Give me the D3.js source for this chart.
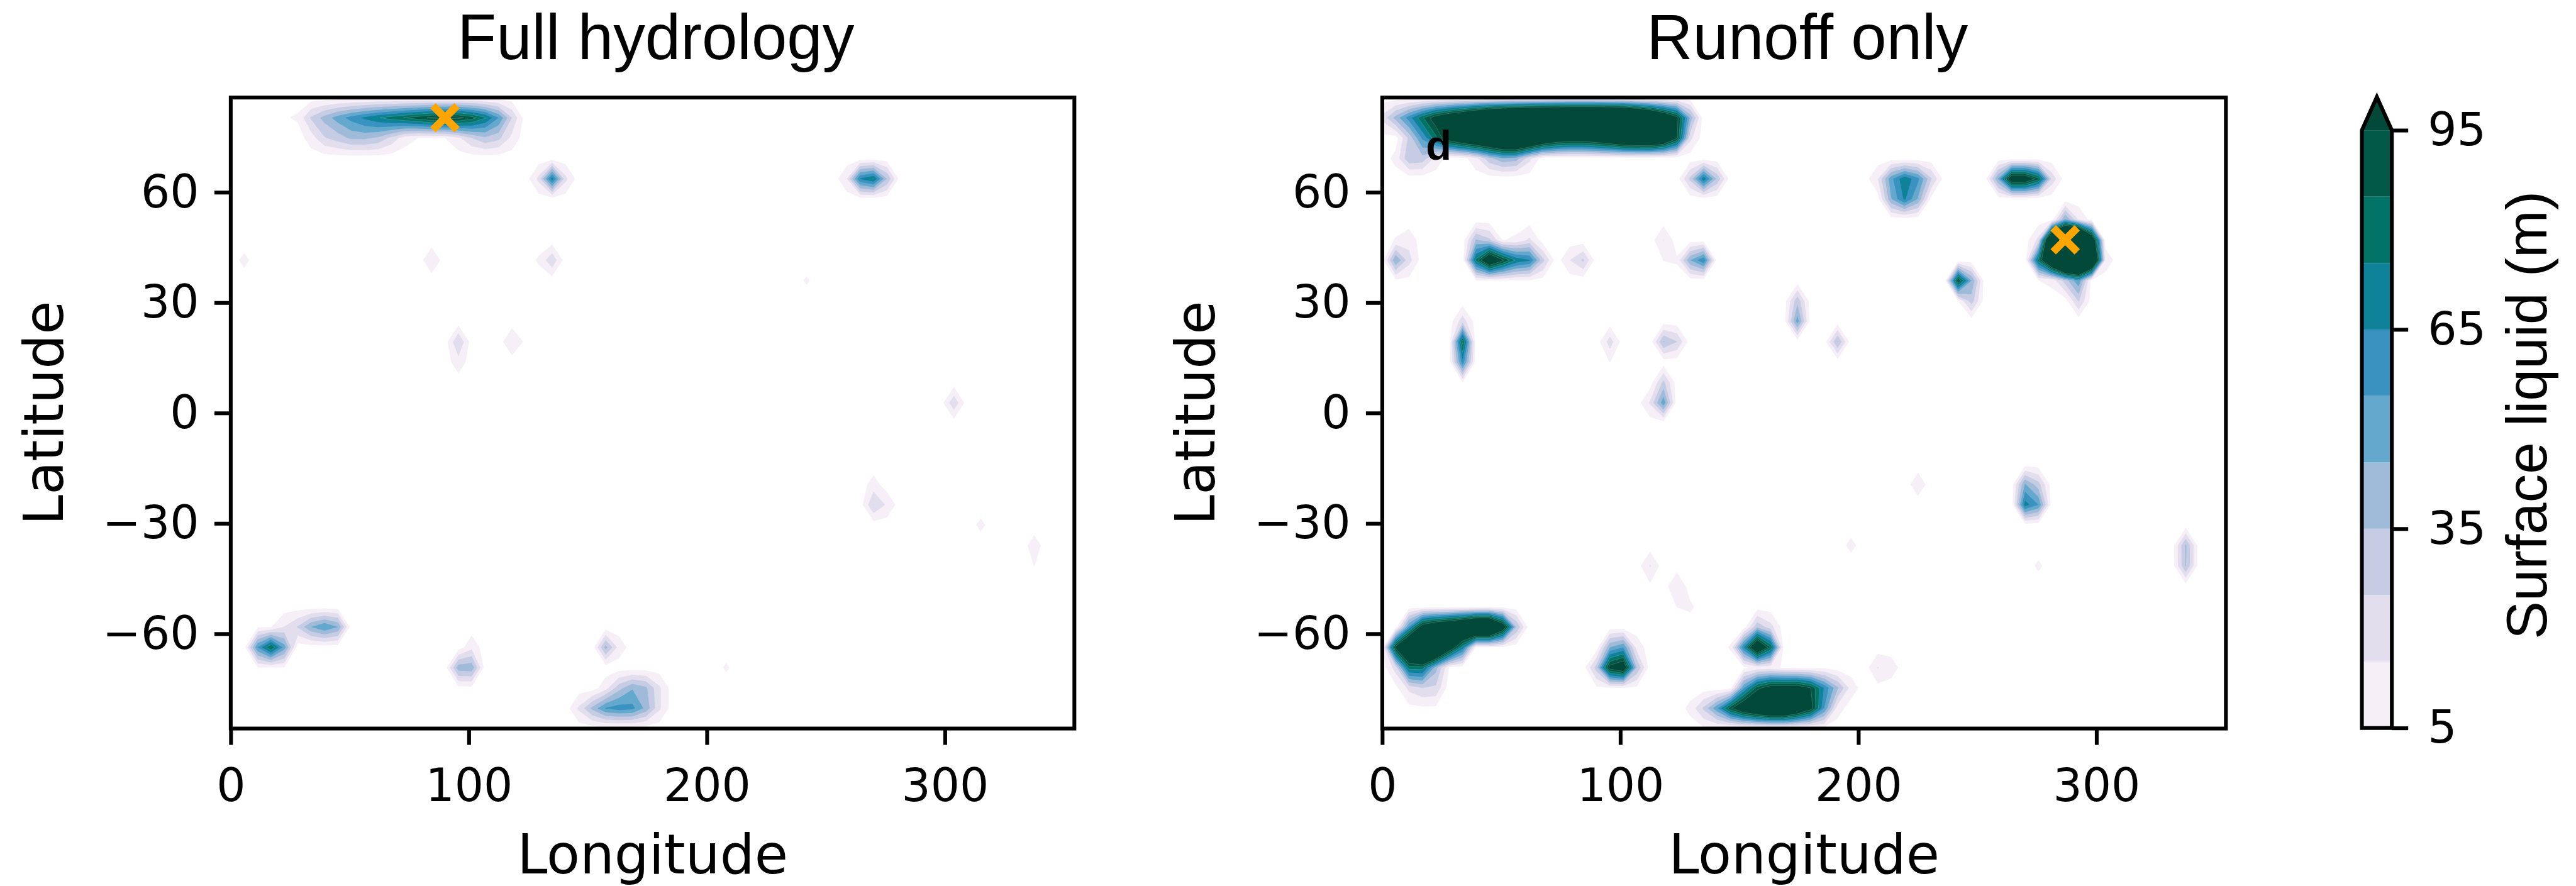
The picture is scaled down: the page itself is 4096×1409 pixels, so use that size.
<!DOCTYPE html>
<html>
<head>
<meta charset="utf-8">
<script src="https://cdn.jsdelivr.net/npm/d3@7"></script>
<style>
  html, body { margin: 0; padding: 0; background: #fff; }
  svg { display: block; }
</style>
</head>
<body>
<div id="chart"></div>
<script>
// T21 grid: 64 longitudes, 32 gaussian latitudes (row 0 is the north edge)
const lons = d3.range(64).map(i => i * 5.625);
const northLats = [85.76, 80.27, 74.74, 69.21, 63.68, 58.14, 52.61, 47.07, 41.53, 36.0, 30.46, 24.92, 19.38, 13.84, 8.31, 2.77];
const lats = northLats.concat(northLats.map(d => -d).reverse());

const levels = [5, 15, 25, 35, 45, 55, 65, 75, 85, 95];
const levelColors = ["#f7eff7", "#e3deed", "#c5cce3", "#9fbbd9", "#65a8ce", "#3a92c0", "#0e8298", "#027367", "#025847", "#03493a"];
const xTicks = [0, 100, 200, 300];
const yTicks = [-60, -30, 0, 30, 60];
const barTicks = [5, 35, 65, 95];

// [row, first column, values...] everything not listed is dry
const fullHydrologyCells = [
  [1, 4, [4, 6.5, 26.5, 39, 50, 59, 67, 74, 80, 85.5, 91, 97, 100, 98, 90, 76, 55, 25]],
  [2, 6, [10, 24, 30, 37, 37, 33, 22, 9, 5, 5, 5, 13, 25, 33, 28, 12]],
  [4, 23, [18, 70, 18]],
  [4, 46, [14, 66, 75.5, 35]],
  [8, 1, [8]],
  [8, 15, [14]],
  [8, 23, [6.5, 23]],
  [9, 43, [6.4]],
  [12, 17, [25.5]],
  [13, 17, [11]],
  [12, 21, [15, 3]],
  [15, 54, [23]],
  [19, 48, [9.2]],
  [20, 48, [25.5, 13.5]],
  [21, 56, [7.5]],
  [22, 60, [10]],
  [23, 60, [5.2]],
  [26, 2, [3.5, 4.5, 15.5, 26, 45, 55.5, 45]],
  [27, 2, [55, 85.5, 50]],
  [28, 2, [4.5, 4.5, 4.5]],
  [27, 18, [12]],
  [28, 17, [41, 42]],
  [29, 17, [2, 2]],
  [27, 28, [39, 11]],
  [28, 37, [6.5]],
  [29, 28, [11, 31, 44, 37, 17]],
  [30, 26, [17, 38, 56, 60, 58, 42, 17]]
];

const runoffOnlyCells = [
  [1, 0, [18, 39, 60, 83, 105, 121, 136, 152, 169, 180, 190, 195, 200, 204, 208, 208, 208, 203, 197, 177, 156, 128, 100, 42]],
  [2, 0, [2, 0.5, 28, 57, 82, 110, 128, 139, 148, 164, 169, 155, 136, 120, 114, 114, 121, 131, 146, 150, 152, 136, 97, 18]],
  [3, 1, [8.5, 33, 31, 11.6, 0.5, 1, 12, 32, 43, 40, 18]],
  [4, 23, [28, 72, 33]],
  [4, 37, [14.5, 52, 73, 58, 26]],
  [5, 37, [1, 44, 67, 44, 2]],
  [4, 46, [46, 115, 115, 88, 22]],
  [6, 51, [46, 14, 1]],
  [7, 1, [5.8, 11]],
  [8, 1, [45, 19]],
  [9, 1, [3, 2]],
  [7, 7, [36, 27, 4.5, 6.9, 17]],
  [8, 7, [78, 125, 97, 73, 66, 28]],
  [9, 7, [4.8, 4.8, 4.5, 4.5, 4.5, 1.4]],
  [8, 14, [15, 27]],
  [7, 21, [15.5]],
  [8, 21, [5.2, 6.3, 45, 64]],
  [7, 49, [18, 161, 215, 230, 123]],
  [8, 49, [80, 144, 215, 210, 165, 12]],
  [9, 49, [4.8, 8, 30, 53]],
  [10, 52, [26]],
  [9, 43, [96, 45]],
  [10, 43, [4.8, 30]],
  [11, 6, [21]],
  [12, 6, [88]],
  [13, 6, [62]],
  [14, 6, [4.9]],
  [12, 17, [20]],
  [13, 17, [5.2]],
  [12, 21, [36, 25.5]],
  [10, 31, [32]],
  [11, 31, [50]],
  [12, 34, [36]],
  [14, 21, [28]],
  [15, 20, [16.5, 52]],
  [19, 48, [46, 29]],
  [20, 48, [70, 55]],
  [19, 40, [11.7]],
  [22, 35, [8]],
  [23, 20, [16]],
  [24, 20, [3]],
  [24, 22, [15]],
  [25, 22, [5.2, 7]],
  [23, 49, [7]],
  [22, 60, [37]],
  [23, 60, [36]],
  [26, 2, [56, 108, 125, 135, 150, 170, 170, 115, 35]],
  [27, 1, [100, 150, 190, 170, 115, 70, 4.5, 4.5, 4]],
  [28, 1, [20, 80, 80, 39, 4.5]],
  [29, 1, [2, 18, 25, 23]],
  [30, 2, [2, 3, 3]],
  [27, 17, [45, 55, 11]],
  [28, 16, [30, 102, 115, 35]],
  [29, 16, [3, 4, 4, 3]],
  [26, 28, [33, 19]],
  [27, 26, [6, 65, 130, 85]],
  [28, 27, [3, 8, 8, 4]],
  [28, 31, [3, 3, 3]],
  [28, 37, [15.5, 10.5]],
  [29, 37, [2]],
  [29, 26, [2, 54, 90, 106, 107, 108, 95, 64, 37, 11]],
  [30, 23, [8, 27, 53, 92, 120, 138, 154, 154, 130, 102, 55, 10]],
  [31, 24, [4, 3]],
  [31, 33, [3]]
];

const fullHydrologyMarker = [90, 80.27];
const runoffOnlyMarker = [286.875, 47.07];

// drawn in the reference's own pixels, the viewBox scales it to the window
const fullW = 4726, fullH = 1626;
const panelW = 1548, panelH = 1158, panelTop = 179;
const spine = 7;
const numberFont = "'DejaVu Sans', sans-serif";
const textFont = "'DejaVu Sans', sans-serif";

const svg = d3.select("#chart")
  .append("svg")
  .attr("width", 4096)
  .attr("height", 1409)
  .attr("viewBox", `0 0 ${fullW} ${fullH}`);

const x = d3.scaleLinear().domain([0, d3.max(lons)]).range([0, panelW]);
const y = d3.scaleLinear().domain([d3.min(lats), d3.max(lats)]).range([panelH, 0]);

// contour coordinates -> lon/lat -> pixels
const rowToLat = d3.scaleLinear().domain(d3.range(32)).range(lats);
const gridPath = d3.geoPath(d3.geoTransform({
  point(cx, cy) {
    this.stream.point(x((cx - 0.5) * 5.625), y(rowToLat(cy - 0.5)));
  }
}));

function cellsToGrid(cells) {
  const grid = new Array(lons.length * lats.length).fill(0);
  cells.forEach(([row, col, values]) => {
    values.forEach((v, k) => { grid[row * lons.length + col + k] = v; });
  });
  return grid;
}

function drawPanel(left, title, cells, marker, clipId) {
  const g = svg.append("g").attr("transform", `translate(${left},${panelTop})`);

  svg.append("clipPath").attr("id", clipId)
    .append("rect").attr("width", panelW).attr("height", panelH);

  const bands = d3.contours()
    .size([lons.length, lats.length])
    .thresholds(levels)(cellsToGrid(cells));

  const plot = g.append("g").attr("clip-path", `url(#${clipId})`);

  plot.selectAll(".band")
    .data(bands)
    .join("path")
    .attr("class", "band")
    .attr("d", gridPath)
    .attr("fill", (d, i) => levelColors[i]);

  // the pale seams between the darkest filled levels
  plot.selectAll(".seam")
    .data(bands.filter(d => d.value >= 75))
    .join("path")
    .attr("class", "seam")
    .attr("d", gridPath)
    .attr("fill", "none")
    .attr("stroke", "#a9cdbd")
    .attr("stroke-opacity", 0.3)
    .attr("stroke-width", 1);

  const xAxis = g.append("g")
    .attr("transform", `translate(0,${panelH})`)
    .call(d3.axisBottom(x).tickValues(xTicks).tickFormat(d3.format("d")).tickSize(30).tickPadding(44));

  const yAxis = g.append("g")
    .call(d3.axisLeft(y).tickValues(yTicks).tickFormat(d3.format("d")).tickSize(30).tickPadding(28));

  [xAxis, yAxis].forEach(axis => {
    axis.select(".domain").remove();
    axis.selectAll("line").attr("stroke", "#000").attr("stroke-width", spine);
    axis.selectAll("text").attr("fill", "#000").style("font-family", numberFont).style("font-size", "84px");
  });

  g.append("rect")
    .attr("width", panelW)
    .attr("height", panelH)
    .attr("fill", "none")
    .attr("stroke", "#000")
    .attr("stroke-width", spine);

  g.append("path")
    .attr("d", d3.range(2).map(k => {
      const s = k ? -1 : 1;
      return `M${x(marker[0]) - 22},${y(marker[1]) - 22 * s}L${x(marker[0]) + 22},${y(marker[1]) + 22 * s}`;
    }).join(""))
    .attr("fill", "none")
    .attr("stroke", "#ffa500")
    .attr("stroke-width", 14);

  g.append("text")
    .attr("x", panelW / 2 + 6)
    .attr("y", -71)
    .attr("text-anchor", "middle")
    .style("font-family", "'Liberation Sans', sans-serif")
    .style("font-size", "117px")
    .text(title);

  g.append("text")
    .attr("x", panelW / 2)
    .attr("y", panelH + 266)
    .attr("text-anchor", "middle")
    .style("font-family", textFont)
    .style("font-size", "100px")
    .text("Longitude");

  g.append("text")
    .attr("transform", `translate(-308,${panelH / 2}) rotate(-90)`)
    .attr("text-anchor", "middle")
    .style("font-family", textFont)
    .style("font-size", "100px")
    .text("Latitude");
}

drawPanel(423, "Full hydrology", fullHydrologyCells, fullHydrologyMarker, "clip-full");
drawPanel(2536, "Runoff only", runoffOnlyCells, runoffOnlyMarker, "clip-runoff");

svg.append("text")
  .attr("x", 2616)
  .attr("y", 293)
  .style("font-family", "'Liberation Sans', sans-serif")
  .style("font-weight", "bold")
  .style("font-size", "77px")
  .text("d");

// colour bar with the extend-max arrow
const barLeft = 4333.5, barW = 55, barTop = 239, barBottom = 1336, arrowTop = 178;
const barY = d3.scaleLinear().domain([5, 95]).range([barBottom, barTop]);
const bar = svg.append("g");

bar.selectAll("rect")
  .data(levels.slice(0, -1))
  .join("rect")
  .attr("x", barLeft)
  .attr("width", barW)
  .attr("y", d => barY(d + 10))
  .attr("height", d => barY(d) - barY(d + 10))
  .attr("fill", d => levelColors[levels.indexOf(d)]);

const arrowLine = d3.line();
const arrowPoints = [[barLeft, barTop], [barLeft + barW / 2, arrowTop], [barLeft + barW, barTop]];

bar.append("path")
  .attr("d", arrowLine(arrowPoints) + "Z")
  .attr("fill", levelColors[9]);

bar.append("path")
  .attr("d", arrowLine([[barLeft, barBottom]].concat(arrowPoints, [[barLeft + barW, barBottom]])) + "Z")
  .attr("fill", "none")
  .attr("stroke", "#000")
  .attr("stroke-width", spine);

const barAxis = svg.append("g")
  .attr("transform", `translate(${barLeft + barW},0)`)
  .call(d3.axisRight(barY).tickValues(barTicks).tickFormat(d3.format("d")).tickSize(30).tickPadding(36));

barAxis.select(".domain").remove();
barAxis.selectAll("line").attr("stroke", "#000").attr("stroke-width", spine);
barAxis.selectAll("text").attr("fill", "#000").style("font-family", numberFont).style("font-size", "84px");

svg.append("text")
  .attr("transform", `translate(4672,762) rotate(-90)`)
  .attr("text-anchor", "middle")
  .style("font-family", "'Liberation Sans', sans-serif")
  .style("font-size", "105px")
  .text("Surface liquid (m)");
</script>
</body>
</html>
